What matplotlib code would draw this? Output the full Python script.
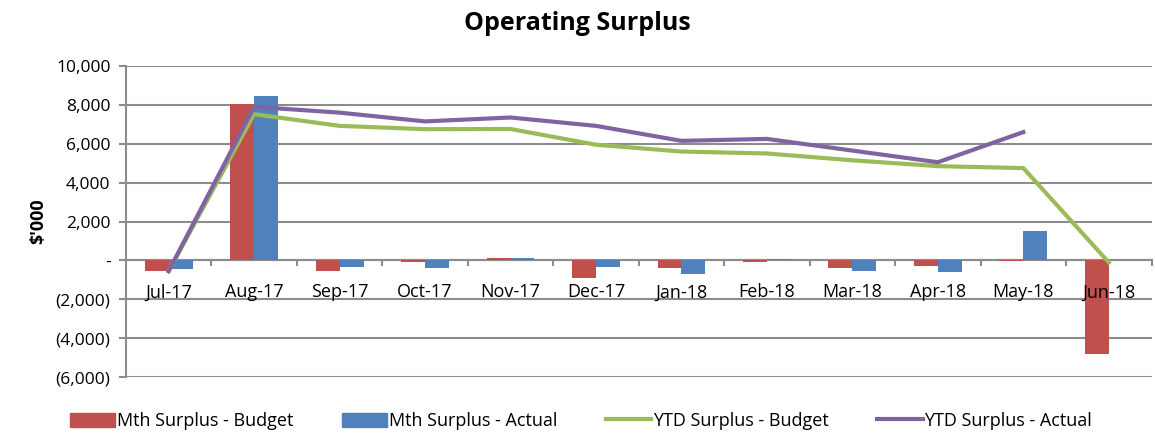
import numpy as np
import matplotlib
matplotlib.use("Agg")
from matplotlib import pyplot as plt
from matplotlib.ticker import FuncFormatter, MultipleLocator
from matplotlib.patches import Patch
from matplotlib.lines import Line2D

months = ['Jul-17', 'Aug-17', 'Sep-17', 'Oct-17', 'Nov-17', 'Dec-17',
          'Jan-18', 'Feb-18', 'Mar-18', 'Apr-18', 'May-18', 'Jun-18']
mth_budget = [-550, 8050, -550, -100, 120, -880, -400, -100, -370, -300, -30, -4830]
mth_actual = [-450, 8460, -350, -380, 120, -330, -700, 80, -550, -600, 1540, np.nan]
ytd_budget = [-550, 7520, 6920, 6750, 6760, 5950, 5600, 5500, 5150, 4850, 4750, -100]
ytd_actual = [-550, 7900, 7600, 7150, 7350, 6920, 6150, 6250, 5650, 5050, 6600, np.nan]

plt.rcParams['font.family'] = ['Open Sans', 'DejaVu Sans']

red, blue, green, purple = '#C0504D', '#4F81BD', '#9BBB59', '#8064A2'
grey = '#8c8c8c'

fig = plt.figure(figsize=(11.55, 4.34), dpi=100)
ax = fig.add_axes([0.109, 0.131, 0.888, 0.717])

x = np.arange(len(months))
w = 0.28
ax.bar(x - w / 2, mth_budget, w, color=red, zorder=3)
ax.bar(x + w / 2, mth_actual, w, color=blue, zorder=3)
ax.plot(x, ytd_budget, color=green, lw=3, zorder=4)
ax.plot(x, ytd_actual, color=purple, lw=3, zorder=5)

ax.set_xlim(-0.5, len(months) - 0.5)
ax.set_ylim(-6000, 10000)
ax.yaxis.set_major_locator(MultipleLocator(2000))


def fmt(v, pos):
    if abs(v) < 1e-6:
        return '-'
    if v < 0:
        return '({:,.0f})'.format(-v)
    return '{:,.0f}'.format(v)


ax.yaxis.set_major_formatter(FuncFormatter(fmt))
ax.grid(axis='y', color=grey, lw=1.5, zorder=0)
for s in ['top', 'right', 'bottom']:
    ax.spines[s].set_visible(False)
ax.spines['left'].set_color(grey)
ax.spines['left'].set_linewidth(1.5)
ax.tick_params(axis='y', colors=grey, length=5, width=1.5, labelsize=12.5, labelcolor='black', pad=6)

# category axis sitting on zero
ax.axhline(0, color=grey, lw=1.5, zorder=2)
ax.set_xticks(x)
ax.set_xticklabels([])
ax.tick_params(axis='x', length=0)
for b in np.arange(-0.5, len(months), 1.0)[1:]:
    ax.plot([b, b], [0, -250], color=grey, lw=1.5, zorder=2, clip_on=False)
for xi, m in zip(x, months):
    ax.text(xi, -1640, m, ha='center', va='center', fontsize=13, zorder=6)

ax.set_ylabel("$'000", fontsize=13, fontweight='bold', labelpad=6)
fig.text(0.5, 0.945, 'Operating Surplus', ha='center', va='center', fontsize=18, fontweight='bold')

handles = [Patch(color=red), Patch(color=blue),
           Line2D([], [], color=green, lw=3), Line2D([], [], color=purple, lw=3)]
labels = ['Mth Surplus - Budget', 'Mth Surplus - Actual', 'YTD Surplus - Budget', 'YTD Surplus - Actual']
fig.legend(handles, labels, loc='center', ncol=4, frameon=False, fontsize=13, bbox_to_anchor=(0.503, 0.03),
           handlelength=2.5, handleheight=0.8, columnspacing=2.7, handletextpad=0.1)

fig.savefig('out.png', dpi=100)
